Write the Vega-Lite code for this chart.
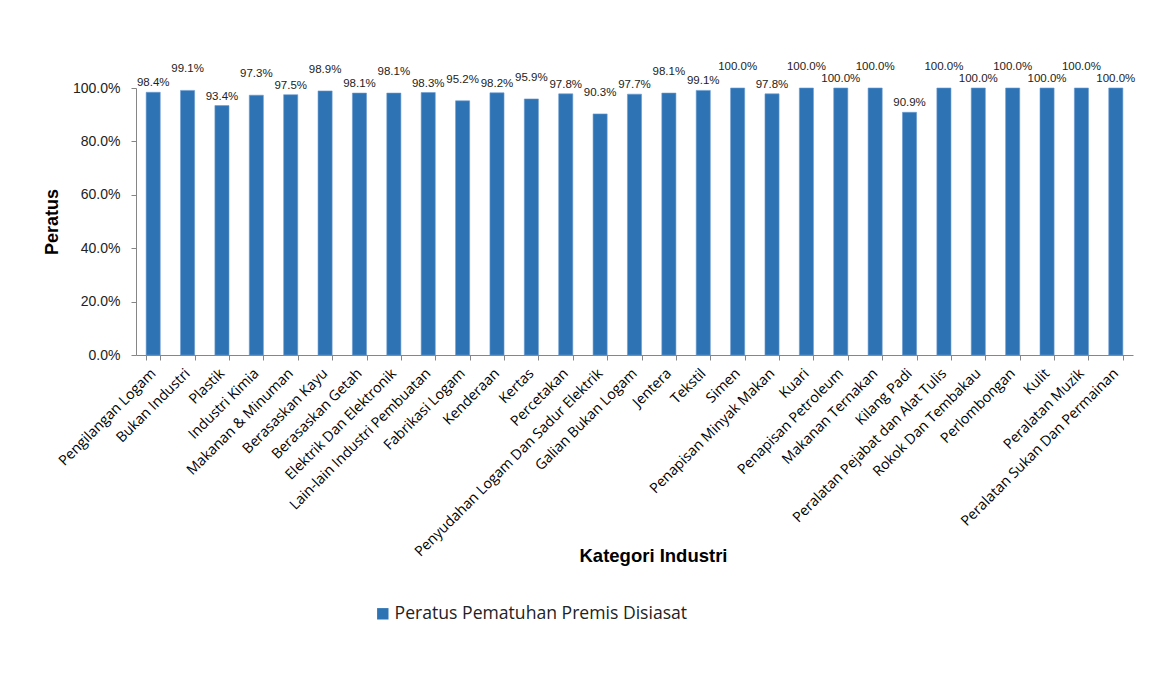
{
  "$schema": "https://vega.github.io/schema/vega-lite/v6.json",
  "autosize": {"type": "none"},
  "width": 997,
  "height": 267,
  "padding": {"left": 136, "top": 88, "right": 28, "bottom": 327},
  "background": "white",
  "config": {"view": {"stroke": null}},
  "data": {
    "values": [
      {"kategori": "Pengilangan Logam", "peratus": 0.984},
      {"kategori": "Bukan Industri", "peratus": 0.991},
      {"kategori": "Plastik", "peratus": 0.934},
      {"kategori": "Industri Kimia", "peratus": 0.973},
      {"kategori": "Makanan & Minuman", "peratus": 0.975},
      {"kategori": "Berasaskan Kayu", "peratus": 0.989},
      {"kategori": "Berasaskan Getah", "peratus": 0.981},
      {"kategori": "Elektrik Dan Elektronik", "peratus": 0.981},
      {"kategori": "Lain-lain Industri Pembuatan", "peratus": 0.983},
      {"kategori": "Fabrikasi Logam", "peratus": 0.952},
      {"kategori": "Kenderaan", "peratus": 0.982},
      {"kategori": "Kertas", "peratus": 0.959},
      {"kategori": "Percetakan", "peratus": 0.978},
      {"kategori": "Penyudahan Logam Dan Sadur Elektrik", "peratus": 0.903},
      {"kategori": "Galian Bukan Logam", "peratus": 0.977},
      {"kategori": "Jentera", "peratus": 0.981},
      {"kategori": "Tekstil", "peratus": 0.991},
      {"kategori": "Simen", "peratus": 1.0},
      {"kategori": "Penapisan Minyak Makan", "peratus": 0.978},
      {"kategori": "Kuari", "peratus": 1.0},
      {"kategori": "Penapisan Petroleum", "peratus": 1.0},
      {"kategori": "Makanan Ternakan", "peratus": 1.0},
      {"kategori": "Kilang Padi", "peratus": 0.909},
      {"kategori": "Peralatan Pejabat dan Alat Tulis", "peratus": 1.0},
      {"kategori": "Rokok Dan Tembakau", "peratus": 1.0},
      {"kategori": "Perlombongan", "peratus": 1.0},
      {"kategori": "Kulit", "peratus": 1.0},
      {"kategori": "Peralatan Muzik", "peratus": 1.0},
      {"kategori": "Peralatan Sukan Dan Permainan", "peratus": 1.0}
    ]
  },
  "transform": [{"window": [{"op": "row_number", "as": "idx"}]}],
  "encoding": {
    "x": {
      "field": "kategori",
      "type": "nominal",
      "sort": null,
      "scale": {"paddingInner": 0.59, "paddingOuter": 0.295},
      "axis": {
        "title": "Kategori Industri",
        "titleFont": "Liberation Sans",
        "titleFontWeight": "bold",
        "titleFontSize": 18.5,
        "titleColor": "#000000",
        "titleX": 517,
        "titleY": 200,
        "titleBaseline": "middle",
        "titleAlign": "center",
        "labelAngle": -45,
        "labelAlign": "right",
        "labelBaseline": "middle",
        "labelFont": "Open Sans",
        "labelFontSize": 14.3,
        "labelColor": "#000000",
        "labelPadding": 11,
        "labelLimit": 400,
        "labelOverlap": false,
        "tickBand": "extent",
        "tickColor": "#868686",
        "tickSize": 5,
        "domainColor": "#868686",
        "domainWidth": 1
      }
    },
    "y": {
      "field": "peratus",
      "type": "quantitative",
      "scale": {"domain": [0, 1], "nice": false},
      "axis": {
        "title": "Peratus",
        "titleFont": "Liberation Sans",
        "titleFontWeight": "bold",
        "titleFontSize": 18,
        "titleColor": "#000000",
        "titleX": -84,
        "titleY": 133.5,
        "titleAngle": -90,
        "titleAlign": "center",
        "titleBaseline": "middle",
        "format": ".1%",
        "values": [0, 0.2, 0.4, 0.6, 0.8, 1.0],
        "labelFont": "Liberation Sans",
        "labelFontSize": 14,
        "labelColor": "#222222",
        "labelPadding": 11,
        "tickColor": "#868686",
        "tickSize": 5,
        "domainColor": "#868686",
        "grid": false
      }
    }
  },
  "layer": [
    {
      "mark": {"type": "bar", "stroke": "#6a9bd0", "strokeWidth": 0.6},
      "encoding": {
        "color": {
          "datum": "Peratus Pematuhan Premis Disiasat",
          "scale": {"range": ["#2e73b4"]},
          "legend": {
            "title": null,
            "orient": "none",
            "legendX": 238,
            "legendY": 517,
            "symbolType": "square",
            "symbolSize": 130,
            "symbolStrokeWidth": 0,
            "symbolOffset": 0,
            "labelOffset": 3,
            "labelFont": "Open Sans",
            "labelFontSize": 17.6,
            "labelColor": "#222222",
            "labelLimit": 500
          }
        }
      }
    },
    {
      "transform": [{"filter": "datum.idx % 2 == 1"}],
      "mark": {"type": "text", "baseline": "alphabetic", "dy": -6, "font": "Liberation Sans", "fontSize": 11.5, "color": "#222222"},
      "encoding": {"text": {"field": "peratus", "type": "quantitative", "format": ".1%"}}
    },
    {
      "transform": [{"filter": "datum.idx % 2 == 0"}],
      "mark": {"type": "text", "baseline": "alphabetic", "dy": -18, "font": "Liberation Sans", "fontSize": 11.5, "color": "#222222"},
      "encoding": {"text": {"field": "peratus", "type": "quantitative", "format": ".1%"}}
    }
  ]
}
